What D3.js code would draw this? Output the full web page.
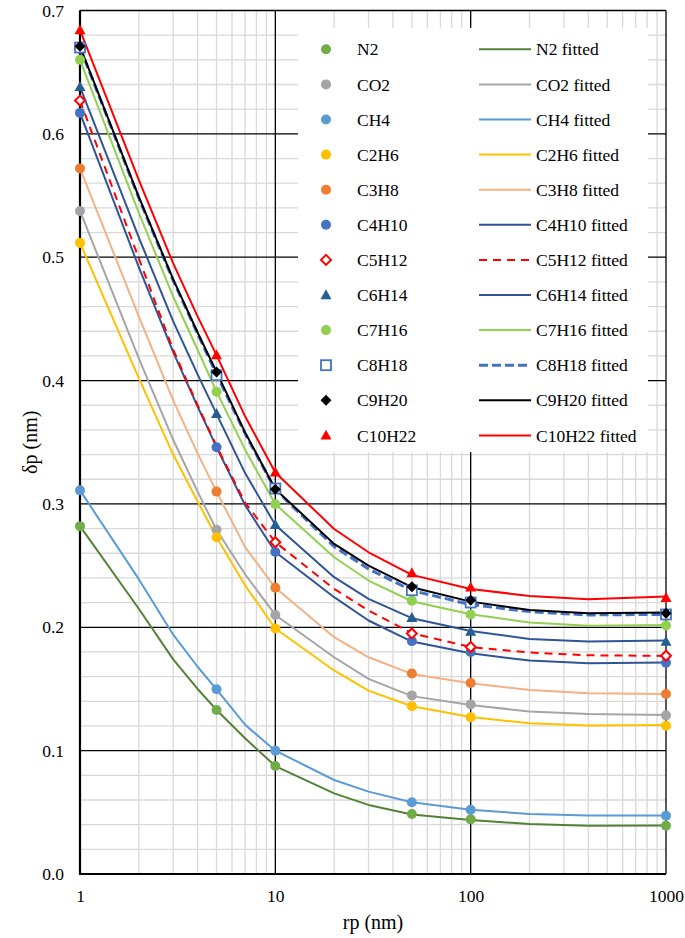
<!DOCTYPE html>
<html><head><meta charset="utf-8">
<script src="https://cdn.jsdelivr.net/npm/d3@7"></script>
<style>
html,body{margin:0;padding:0;background:#fff;}
svg text{font-family:"Liberation Serif","Times New Roman",serif;fill:#000;}
</style></head>
<body><svg id="c" width="685" height="938"></svg>
<script>
// ---- data ----
const markerX = [1, 5, 10, 50, 100, 1000];
const fitX = [1, 2, 3, 4, 5, 7, 10, 20, 30, 50, 100, 200, 400, 1000];

const N2     = [0.282, 0.133, 0.0875, 0.0486, 0.0443, 0.0392];
const CO2    = [0.5375, 0.279, 0.210, 0.1448, 0.1375, 0.1286];
const CH4    = [0.311, 0.1497, 0.100, 0.0581, 0.0521, 0.0473];
const C2H6   = [0.5116, 0.273, 0.199, 0.136, 0.127, 0.1202];
const C3H8   = [0.572, 0.310, 0.232, 0.1626, 0.1548, 0.1459];
const C4H10  = [0.617, 0.346, 0.261, 0.1888, 0.180, 0.1713];
const C5H12  = [0.627, null, 0.269, 0.195, 0.184, 0.1769];
const C6H14  = [0.638, 0.373, 0.283, 0.2077, 0.1964, 0.1883];
const C7H16  = [0.660, 0.391, 0.2998, 0.2215, 0.2104, 0.2015];
const C8H18  = [0.670, 0.4044, 0.3125, 0.230, 0.2201, 0.2104];
const C9H20  = [0.671, 0.407, 0.312, 0.2329, 0.222, 0.2113];
const C10H22 = [0.684, 0.4206, 0.3255, 0.244, 0.2323, 0.2239];

const N2fit     = [0.282, 0.215, 0.174, 0.150, 0.133, 0.110, 0.0875, 0.0654, 0.056, 0.0482, 0.0438, 0.0405, 0.0392, 0.0393];
const CO2fit    = [0.5375, 0.418, 0.352, 0.310, 0.279, 0.243, 0.210, 0.1757, 0.1582, 0.1442, 0.1370, 0.1317, 0.1298, 0.1288];
const CH4fit    = [0.311, 0.239, 0.194, 0.168, 0.1497, 0.121, 0.100, 0.0762, 0.0668, 0.0581, 0.0521, 0.0486, 0.0474, 0.0475];
const C2H6fit   = [0.5116, 0.402, 0.340, 0.302, 0.273, 0.234, 0.199, 0.165, 0.1487, 0.136, 0.1273, 0.1222, 0.1203, 0.1207];
const C3H8fit   = [0.572, 0.452, 0.384, 0.341, 0.310, 0.265, 0.232, 0.192, 0.1757, 0.1622, 0.1546, 0.1492, 0.1465, 0.146];
const C4H10fit  = [0.617, 0.492, 0.423, 0.379, 0.346, 0.299, 0.261, 0.2244, 0.2055, 0.1884, 0.179, 0.173, 0.1708, 0.1714];
const C5H12fit  = [0.627, 0.499, 0.425, 0.380, 0.347, 0.301, 0.269, 0.2311, 0.2136, 0.1952, 0.184, 0.1795, 0.1773, 0.1768];
const C6H14fit  = [0.638, 0.516, 0.448, 0.405, 0.373, 0.325, 0.283, 0.2406, 0.223, 0.2074, 0.197, 0.1905, 0.1884, 0.1892];
const C7H16fit  = [0.660, 0.536, 0.468, 0.425, 0.391, 0.344, 0.2998, 0.2568, 0.2379, 0.2211, 0.2105, 0.2038, 0.2013, 0.2019];
const C8H18fit  = [0.670, 0.548, 0.481, 0.438, 0.405, 0.357, 0.3115, 0.2654, 0.2473, 0.2298, 0.2184, 0.2127, 0.210, 0.2105];
const C9H20fit  = [0.671, 0.549, 0.482, 0.439, 0.407, 0.358, 0.312, 0.2676, 0.250, 0.2325, 0.2208, 0.214, 0.2113, 0.2119];
const C10H22fit = [0.684, 0.5627, 0.495, 0.452, 0.4206, 0.371, 0.3255, 0.2797, 0.2608, 0.2425, 0.2311, 0.2254, 0.2227, 0.2249];

const seriesNames = ["N2","CO2","CH4","C2H6","C3H8","C4H10","C5H12","C6H14","C7H16","C8H18","C9H20","C10H22"];
const markerData = [N2,CO2,CH4,C2H6,C3H8,C4H10,C5H12,C6H14,C7H16,C8H18,C9H20,C10H22];
const fitData = [N2fit,CO2fit,CH4fit,C2H6fit,C3H8fit,C4H10fit,C5H12fit,C6H14fit,C7H16fit,C8H18fit,C9H20fit,C10H22fit];

const xTicks = [1, 10, 100, 1000];
const yTicks = [0, 0.1, 0.2, 0.3, 0.4, 0.5, 0.6, 0.7];

// ---- styles ----
const markerStyle = [
  {shape:"circle",  fill:"#70AD47", stroke:"none"},
  {shape:"circle",  fill:"#A5A5A5", stroke:"none"},
  {shape:"circle",  fill:"#5B9BD5", stroke:"none"},
  {shape:"circle",  fill:"#FFC000", stroke:"none"},
  {shape:"circle",  fill:"#ED7D31", stroke:"none"},
  {shape:"circle",  fill:"#4472C4", stroke:"none"},
  {shape:"diamond", fill:"#fff",    stroke:"#FF0000"},
  {shape:"triangle",fill:"#255E91", stroke:"none"},
  {shape:"circle",  fill:"#92D050", stroke:"none"},
  {shape:"square",  fill:"#fff",    stroke:"#4472C4"},
  {shape:"diamond", fill:"#000",    stroke:"none"},
  {shape:"triangle",fill:"#FF0000", stroke:"none"}
];
const lineStyle = [
  {color:"#548235", w:2, dash:null},
  {color:"#A5A5A5", w:2, dash:null},
  {color:"#5B9BD5", w:2, dash:null},
  {color:"#FFC000", w:2, dash:null},
  {color:"#F4B183", w:2, dash:null},
  {color:"#2F5597", w:2, dash:null},
  {color:"#FF0000", w:2, dash:"8,6"},
  {color:"#2F5597", w:2, dash:null},
  {color:"#92D050", w:2, dash:null},
  {color:"#4472C4", w:3, dash:"9,4"},
  {color:"#000000", w:2, dash:null},
  {color:"#FF0000", w:2, dash:null}
];

// ---- layout ----
const svg = d3.select("#c");
const L = 80, R = 666, T = 10.5, B = 874;
const x = d3.scaleLog().domain([1, 1000]).range([L, R]);
const y = d3.scaleLinear().domain([0, 0.7]).range([B, T]);

// minor grid
const g = svg.append("g");
const minorX = [];
[1, 10, 100].forEach(d => { for (let k = 2; k <= 9; k++) minorX.push(d * k); });
g.selectAll(".mx").data(minorX).enter().append("line")
  .attr("x1", d => x(d)).attr("x2", d => x(d)).attr("y1", T).attr("y2", B)
  .attr("stroke", "#D9D9D9").attr("stroke-width", 1.3);
const minorY = d3.range(0, 71, 2).map(d => d / 100).filter(d => Math.round(d * 100) % 10 !== 0);
g.selectAll(".my").data(minorY).enter().append("line")
  .attr("x1", L).attr("x2", R).attr("y1", d => y(d)).attr("y2", d => y(d))
  .attr("stroke", "#D9D9D9").attr("stroke-width", 1.3);
// major grid
g.selectAll(".Mx").data(xTicks).enter().append("line")
  .attr("x1", d => x(d)).attr("x2", d => x(d)).attr("y1", T).attr("y2", B)
  .attr("stroke", "#000").attr("stroke-width", 1.3);
g.selectAll(".My").data(yTicks).enter().append("line")
  .attr("x1", L).attr("x2", R).attr("y1", d => y(d)).attr("y2", d => y(d))
  .attr("stroke", "#000").attr("stroke-width", 1.3);

// axes
const xAxis = d3.axisBottom(x).tickValues(xTicks).tickFormat(d3.format("d")).tickSize(0).tickPadding(12);
const yAxis = d3.axisLeft(y).tickValues(yTicks).tickFormat(d3.format(".1f")).tickSize(0).tickPadding(16);
const gx = svg.append("g").attr("transform", `translate(0,${B})`).call(xAxis);
const gy = svg.append("g").attr("transform", `translate(${L},0)`).call(yAxis);
[gx, gy].forEach(a => {
  a.select(".domain").remove();
  a.selectAll("text").style("font-size", "17.5px").style("font-family", '"Liberation Serif","Times New Roman",serif').attr("fill", "#000");
});
gx.selectAll("text").attr("dy", "0.9em");
svg.append("line").attr("x1", L).attr("x2", L).attr("y1", T).attr("y2", B + 1).attr("stroke", "#000").attr("stroke-width", 2.2);
svg.append("line").attr("x1", L - 1).attr("x2", R).attr("y1", B).attr("y2", B).attr("stroke", "#000").attr("stroke-width", 2.2);

// axis titles
svg.append("text").attr("x", (L + R) / 2).attr("y", 929).attr("text-anchor", "middle")
  .style("font-size", "20px").text("rp (nm)");
svg.append("text").attr("transform", `translate(37,${(T + B) / 2}) rotate(-90)`).attr("text-anchor", "middle")
  .style("font-size", "20px").text("δp (nm)");

// marker drawing helper
function drawMarker(sel, st, size) {
  const s = size;
  if (st.shape === "circle") {
    sel.append("circle").attr("r", s / 2).attr("fill", st.fill);
  } else if (st.shape === "diamond") {
    const h = s / 2 + (st.stroke !== "none" ? 0 : 0.5);
    sel.append("path").attr("d", `M0,${-h}L${h},0L0,${h}L${-h},0Z`)
      .attr("fill", st.fill).attr("stroke", st.stroke === "none" ? null : st.stroke).attr("stroke-width", 2);
  } else if (st.shape === "triangle") {
    const h = s * 0.55;
    sel.append("path").attr("d", `M0,${-h * 1.05}L${h},${h * 0.75}L${-h},${h * 0.75}Z`).attr("fill", st.fill);
  } else if (st.shape === "square") {
    const h = s / 2;
    sel.append("rect").attr("x", -h).attr("y", -h).attr("width", 2 * h).attr("height", 2 * h)
      .attr("fill", st.fill).attr("stroke", st.stroke).attr("stroke-width", 1.8);
  }
}

// fitted lines
const plot = svg.append("g");
const lineGen = d3.line().x(d => x(d[0])).y(d => y(d[1]));
fitData.forEach((arr, i) => {
  const pts = fitX.map((xv, j) => [xv, arr[j]]);
  const ls = lineStyle[i];
  plot.append("path").attr("d", lineGen(pts)).attr("fill", "none")
    .attr("stroke", ls.color).attr("stroke-width", ls.w)
    .attr("stroke-dasharray", ls.dash).attr("stroke-linejoin", "round");
});
// markers
markerData.forEach((arr, i) => {
  markerX.forEach((xv, j) => {
    if (arr[j] == null) return;
    const m = plot.append("g").attr("transform", `translate(${x(xv)},${y(arr[j])})`);
    drawMarker(m, markerStyle[i], 10);
  });
});

// legend
const lg = svg.append("g");
lg.append("rect").attr("x", 298).attr("y", 28).attr("width", 350).attr("height", 424).attr("fill", "#fff");
seriesNames.forEach((name, i) => {
  const ry = 49.3 + i * 35.1;
  const m = lg.append("g").attr("transform", `translate(326,${ry})`);
  drawMarker(m, markerStyle[i], 10);
  lg.append("text").attr("x", 357).attr("y", ry).attr("dy", "0.35em").style("font-size", "17.5px").text(name);
  const ls = lineStyle[i];
  lg.append("line").attr("x1", 479).attr("x2", 531).attr("y1", ry).attr("y2", ry)
    .attr("stroke", ls.color).attr("stroke-width", ls.w).attr("stroke-dasharray", ls.dash);
  lg.append("text").attr("x", 536).attr("y", ry).attr("dy", "0.35em").style("font-size", "17.5px").text(name + " fitted");
});
</script></body></html>
